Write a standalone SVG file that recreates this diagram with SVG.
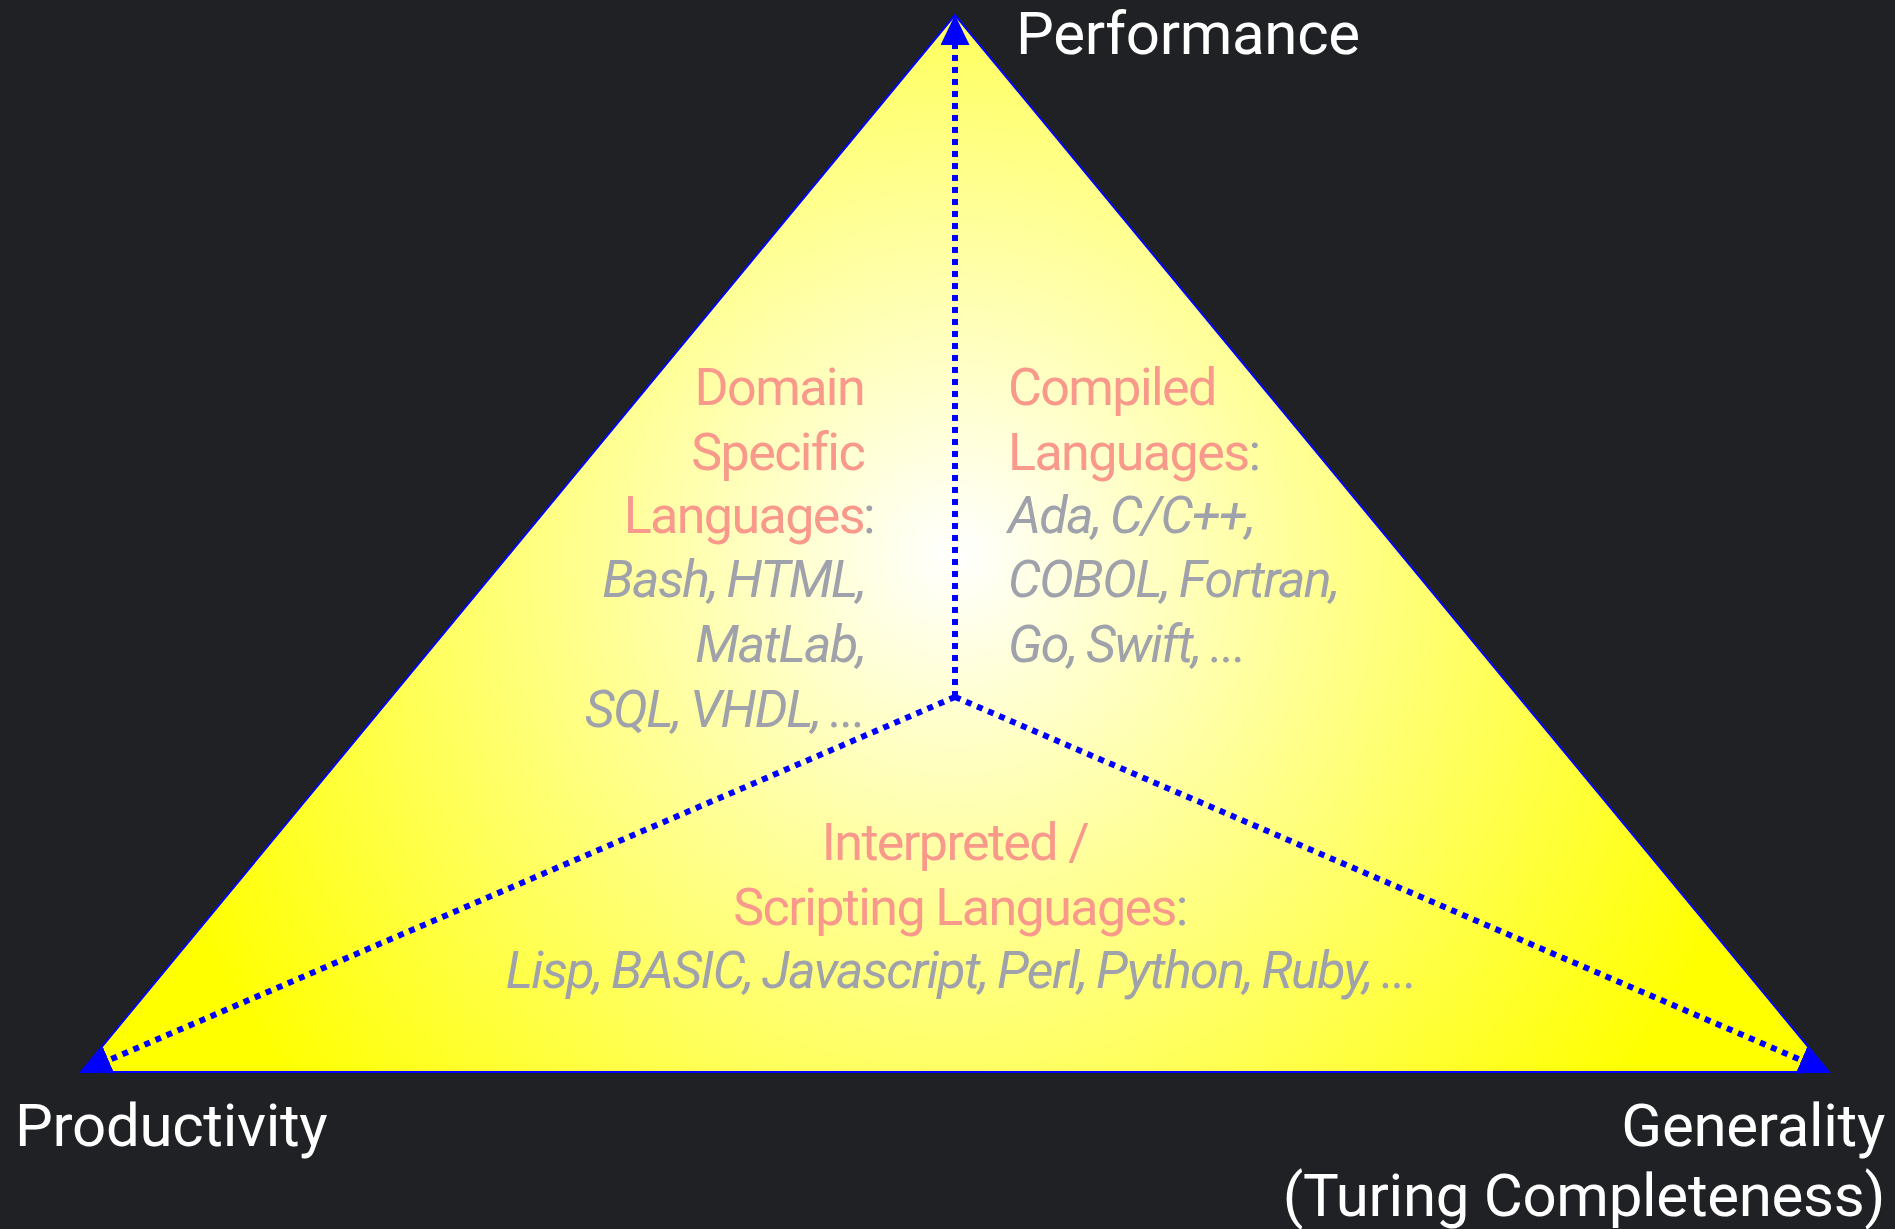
<svg xmlns="http://www.w3.org/2000/svg" width="1895" height="1229" viewBox="0 0 1895 1229">
  <style>
    .axis { font-family: Roboto, "Liberation Sans", sans-serif; font-size: 60px; fill: #ffffff; letter-spacing: -0.3px; }
    .title { font-family: Roboto, "Liberation Sans", sans-serif; font-size: 52px; fill: #f8998b; letter-spacing: -1.6px; }
    .list { font-family: Roboto, "Liberation Sans", sans-serif; font-size: 52px; font-style: italic; fill: #9fa2aa; letter-spacing: -1.6px; word-spacing: -1.5px; }
    .colon { font-family: Roboto, "Liberation Sans", sans-serif; font-size: 52px; fill: #9fa2aa; }
    .conn { stroke: #0000ff; stroke-width: 6; stroke-dasharray: 6 6; fill: none; }
  </style>
  <defs>
    <radialGradient id="glow" gradientUnits="userSpaceOnUse" cx="955" cy="555" r="850">
      <stop offset="0" stop-color="#ffffff"/>
      <stop offset="1" stop-color="#ffff00"/>
    </radialGradient>
    <marker id="arrow" markerUnits="userSpaceOnUse" markerWidth="30" markerHeight="29" viewBox="0 0 30 29" refX="0" refY="14.5" orient="auto">
      <path d="M0,0 L30,14.5 L0,29 z" fill="#0000ff"/>
    </marker>
  </defs>
  <rect x="0" y="0" width="1895" height="1229" fill="#202124"/>

  <g id="triangle">
    <polygon points="955,15 81,1072 1829,1072" fill="url(#glow)" stroke="#0000ff" stroke-width="2"/>
  </g>

  <g id="connectors">
    <line class="conn" x1="955" y1="697" x2="955" y2="45" marker-end="url(#arrow)"/>
    <line class="conn" x1="955" y1="697" x2="108.6" y2="1060.2" marker-end="url(#arrow)"/>
    <line class="conn" x1="955" y1="697" x2="1801.4" y2="1060.2" marker-end="url(#arrow)"/>
  </g>

  <g id="performance">
    <text class="axis" x="1016" y="54">Performance</text>
  </g>
  <g id="productivity">
    <text class="axis" x="15" y="1146">Productivity</text>
  </g>
  <g id="generality">
    <text class="axis" x="1885" y="1146" text-anchor="end">Generality</text>
    <text class="axis" x="1885" y="1216" text-anchor="end">(Turing Completeness)</text>
  </g>

  <g id="domain-specific">
    <text class="title" x="864" y="405" text-anchor="end">Domain</text>
    <text class="title" x="864" y="470" text-anchor="end">Specific</text>
    <text class="title" x="864" y="533" text-anchor="end">Languages</text>
    <text class="colon" x="863" y="533">:</text>
    <text class="list" x="865" y="597" text-anchor="end">Bash, HTML,</text>
    <text class="list" x="865" y="662" text-anchor="end">MatLab,</text>
    <text class="list" x="865" y="727" text-anchor="end">SQL, VHDL, ...</text>
  </g>

  <g id="compiled">
    <text class="title" x="1008" y="405">Compiled</text>
    <text class="title" x="1008" y="470">Languages<tspan class="colon">:</tspan></text>
    <text class="list" x="1008" y="533">Ada, C/C++,</text>
    <text class="list" x="1008" y="597">COBOL, Fortran,</text>
    <text class="list" x="1008" y="662">Go, Swift, ...</text>
  </g>

  <g id="interpreted">
    <text class="title" x="955" y="860" text-anchor="middle">Interpreted /</text>
    <text class="title" x="960" y="925" text-anchor="middle">Scripting Languages<tspan class="colon">:</tspan></text>
    <text class="list" x="961" y="988" text-anchor="middle">Lisp, BASIC, Javascript, Perl, Python, Ruby, ...</text>
  </g>
</svg>
